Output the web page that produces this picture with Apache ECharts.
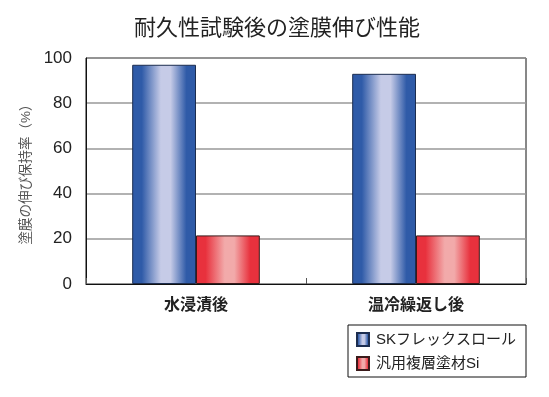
<!DOCTYPE html>
<html>
<head>
<meta charset="utf-8">
<script src="https://cdn.jsdelivr.net/npm/echarts@6/dist/echarts.min.js"></script>
<style>
  html, body { margin: 0; padding: 0; background: #fff; }
  #chart { width: 549px; height: 397px; }
</style>
</head>
<body>
<div id="chart"></div>
<script>
const categories = ["水浸漬後", "温冷繰返し後"]
const seriesNames = ["SKフレックスロール", "汎用複層塗材Si"]
const skFlexValues = [97, 93]
const generalValues = [21.5, 21.5]
const yTicks = [0, 20, 40, 60, 80, 100]

const FONT = "'Liberation Sans', 'Noto Sans CJK JP', sans-serif"

function barGradient(edge, mid) {
  return new echarts.graphic.LinearGradient(0, 0, 1, 0, [
    { offset: 0, color: edge },
    { offset: 0.15, color: edge },
    { offset: 0.45, color: mid },
    { offset: 0.6, color: mid },
    { offset: 0.85, color: edge },
    { offset: 1, color: edge }
  ])
}

const blueFill = barGradient("#2f5ba8", "#c6cbe7")
const redFill = barGradient("#e8313d", "#f2aaaa")

const chart = echarts.init(document.getElementById("chart"), null, { renderer: "canvas" })

chart.setOption({
  animation: false,
  textStyle: { fontFamily: FONT },
  title: {
    text: "耐久性試験後の塗膜伸び性能",
    left: 272,
    top: 13,
    textAlign: "center",
    textStyle: { fontSize: 22, fontWeight: "normal", color: "#222", fontFamily: FONT }
  },
  grid: {
    left: 86, right: 23, top: 58, bottom: 113,
    show: true, borderColor: "#111", borderWidth: 1
  },
  legend: {
    orient: "vertical",
    left: 348,
    top: 325,
    padding: [7, 10, 6, 8],
    itemGap: 9,
    itemWidth: 12,
    itemHeight: 13,
    borderColor: "#111",
    borderWidth: 1,
    icon: "rect",
    data: seriesNames,
    textStyle: { fontSize: 15, color: "#222", fontFamily: FONT, padding: [0, 0, 0, 2] }
  },
  xAxis: {
    type: "category",
    data: categories,
    axisLine: { lineStyle: { color: "#111", width: 1 } },
    axisTick: { show: true, inside: true, length: 6, lineStyle: { color: "#555" } },
    axisLabel: { fontSize: 16, fontWeight: "bold", color: "#222", margin: 14, fontFamily: FONT }
  },
  yAxis: {
    type: "value",
    min: yTicks[0],
    max: yTicks[yTicks.length - 1],
    interval: 20,
    name: "塗膜の伸び保持率（%）",
    nameLocation: "middle",
    nameRotate: 90,
    nameGap: 48,
    nameTextStyle: { fontSize: 13.5, color: "#555", fontFamily: FONT },
    axisLine: { show: true, lineStyle: { color: "#111", width: 1 } },
    axisTick: { show: false },
    axisLabel: { fontSize: 17, color: "#222", margin: 14, fontFamily: FONT },
    splitLine: { lineStyle: { color: "#999", width: 1.5 } }
  },
  series: [
    {
      name: seriesNames[0],
      type: "bar",
      data: skFlexValues,
      barGap: "0%",
      barCategoryGap: "42%",
      itemStyle: { color: blueFill, borderColor: "#1c2d4f", borderWidth: 1 }
    },
    {
      name: seriesNames[1],
      type: "bar",
      data: generalValues,
      itemStyle: { color: redFill, borderColor: "#3a1a1a", borderWidth: 1 }
    }
  ]
})
</script>
</body>
</html>
